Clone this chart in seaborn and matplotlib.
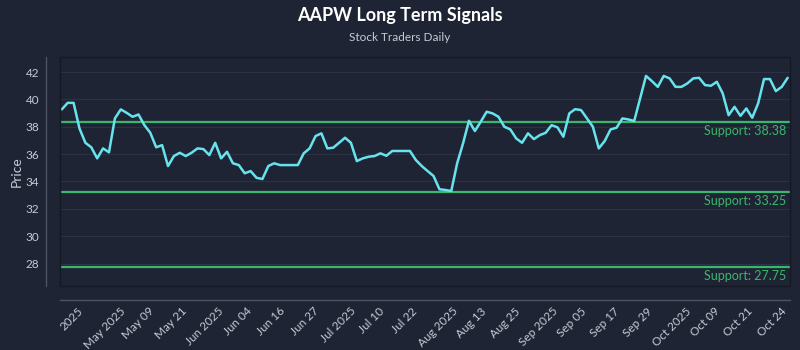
import numpy as np
import pandas as pd
import matplotlib
matplotlib.use("Agg")
import matplotlib.pyplot as plt
import seaborn as sns
from matplotlib.patches import Rectangle

# data
prices = [39.27, 39.75, 39.75, 37.88, 36.83, 36.50, 35.69, 36.42, 36.13, 38.61,
          39.27, 39.02, 38.73, 38.90, 38.12, 37.56, 36.50, 36.66, 35.13, 35.86,
          36.10, 35.86, 36.10, 36.42, 36.37, 35.93, 36.83, 35.69, 36.17, 35.33,
          35.20, 34.60, 34.76, 34.27, 34.18, 35.13, 35.33, 35.20, 35.20, 35.20,
          35.20, 36.06, 36.42, 37.32, 37.52, 36.42, 36.47, 36.83, 37.20, 36.83,
          35.49, 35.69, 35.81, 35.86, 36.06, 35.88, 36.23, 36.23, 36.23, 36.23,
          35.57, 35.13, 34.76, 34.40, 33.43, 33.38, 33.30, 35.33, 36.79, 38.44,
          37.69, 38.37, 39.10, 38.98, 38.73, 38.00, 37.81, 37.15, 36.83, 37.52,
          37.10, 37.39, 37.56, 38.12, 37.96, 37.27, 38.98, 39.29, 39.22, 38.61,
          38.00, 36.42, 36.96, 37.81, 37.93, 38.61, 38.54, 38.42, 40.07, 41.72,
          41.34, 40.92, 41.72, 41.54, 40.92, 40.92, 41.17, 41.54, 41.58, 41.05,
          41.00, 41.29, 40.44, 38.85, 39.46, 38.80, 39.34, 38.66, 39.71, 41.49,
          41.49, 40.61, 40.92, 41.58]
support_levels = [38.38, 33.25, 27.75]
tick_labels = ["2025", "May 2025", "May 09", "May 21", "Jun 2025", "Jun 04",
               "Jun 16", "Jun 27", "Jul 2025", "Jul 10", "Jul 22", "Aug 2025",
               "Aug 13", "Aug 25", "Sep 2025", "Sep 05", "Sep 17", "Sep 29",
               "Oct 2025", "Oct 09", "Oct 21", "Oct 24"]

df = pd.DataFrame({"idx": np.arange(len(prices)), "price": prices})

bg = "#1e2433"
line_col = "#67e3ee"
green = "#3cb66c"
txt = "#c5cad3"

sns.set_theme(style="dark")
plt.rcParams["font.family"] = ["Lato", "DejaVu Sans"]

fig = plt.figure(figsize=(8, 3.5), dpi=100, facecolor=bg)
ax = fig.add_axes([0.075, 0.183, 0.9125, 0.654])
ax.set_facecolor(bg)

for lvl in support_levels:
    ax.axhline(lvl, color=green, lw=1.6, zorder=2)
    ax.text(len(prices) - 1.2, lvl - 0.25, f"Support: {lvl:.2f}", color=green,
            fontsize=9, ha="right", va="top", zorder=3)

sns.lineplot(data=df, x="idx", y="price", color=line_col, lw=1.8, ax=ax, zorder=4)

ax.set_xlim(-0.3, len(prices) - 0.6)
ax.set_ylim(26.36, 43.1)
ax.set_yticks(range(28, 43, 2))
ax.grid(axis="y", color="#2a3244", lw=0.8)
ax.grid(axis="x", visible=False)

ticks = np.linspace(1.6, 120.3, len(tick_labels))
ax.set_xticks(ticks)
ax.set_xticklabels(tick_labels)
ax.tick_params(colors=txt, labelsize=8.5, length=0)
ax.tick_params(axis="y", pad=5)
ax.tick_params(axis="x", labelrotation=45, pad=4)
plt.setp(ax.get_xticklabels(), ha="right", va="top", rotation_mode="anchor")
ax.set_xlabel("")
ax.set_ylabel("Price", color=txt, fontsize=10, labelpad=2)

sns.despine(ax=ax, offset=10)
for s in ["left", "bottom"]:
    ax.spines[s].set_color("#4a5264")
    ax.spines[s].set_linewidth(1)
ax.add_patch(Rectangle((0, 0), 1, 1, transform=ax.transAxes, fill=False,
                       ec="#141925", lw=1, zorder=5, clip_on=False))

fig.text(0.5, 0.955, "AAPW Long Term Signals", ha="center", va="center",
         color="white", fontsize=13, fontweight="bold")
fig.text(0.5, 0.893, "Stock Traders Daily", ha="center", va="center",
         color=txt, fontsize=8.5)

fig.savefig("out.png", dpi=100, facecolor=bg)
